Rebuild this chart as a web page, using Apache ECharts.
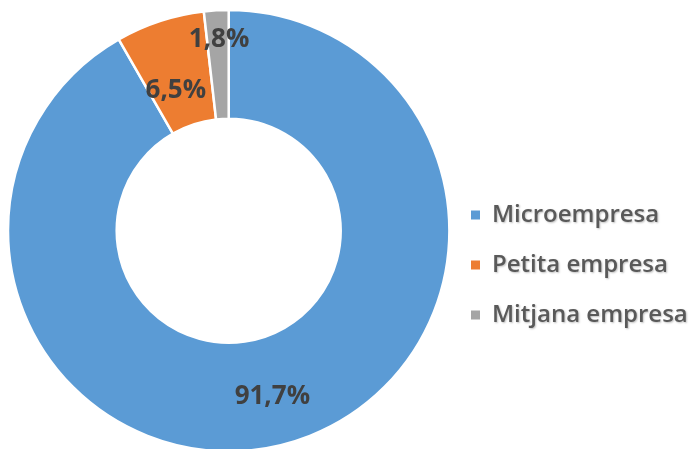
<!DOCTYPE html>
<html><head><meta charset="utf-8">
<script src="https://cdn.jsdelivr.net/npm/echarts@6/dist/echarts.min.js"></script>
<style>html,body{margin:0;padding:0;background:#fff}#c{width:690px;height:449px}</style>
</head><body><div id="c"></div>
<script>
const categories = ['Microempresa', 'Petita empresa', 'Mitjana empresa'];
const values = [91.7, 6.5, 1.8];
const colors = ['#5B9BD5', '#ED7D31', '#A5A5A5'];
const labelShift = [2, 21, -22];

const chart = echarts.init(document.getElementById('c'), null, {renderer: 'canvas'});
chart.setOption({
  animation: false,
  backgroundColor: '#ffffff',
  legend: {
    orient: 'vertical',
    left: 469,
    top: 202,
    padding: 0,
    itemWidth: 11,
    itemHeight: 11,
    itemGap: 24,
    icon: 'rect',
    data: categories,
    textStyle: {
      fontFamily: 'Open Sans',
      fontWeight: 600,
      fontSize: 24,
      lineHeight: 26,
      color: '#595959',
      padding: [0, 0, 0, 6],
      textShadowColor: 'rgba(0,0,0,0.25)',
      textShadowBlur: 2,
      textShadowOffsetX: 1,
      textShadowOffsetY: 1
    }
  },
  series: [{
    type: 'pie',
    center: [228.7, 230.7],
    radius: [112, 220.7],
    startAngle: 90,
    clockwise: true,
    avoidLabelOverlap: false,
    itemStyle: {borderColor: '#ffffff', borderWidth: 2.5},
    label: {
      position: 'inside',
      formatter: p => p.value.toFixed(1).replace('.', ',') + '%',
      fontFamily: 'Open Sans',
      fontWeight: 'bold',
      fontSize: 26,
      color: '#404040'
    },
    labelLine: {show: false},
    labelLayout: p => ({dy: labelShift[p.dataIndex]}),
    emphasis: {disabled: true},
    data: categories.map((n, i) => ({name: n, value: values[i], itemStyle: {color: colors[i]}}))
  }]
});
</script></body></html>
